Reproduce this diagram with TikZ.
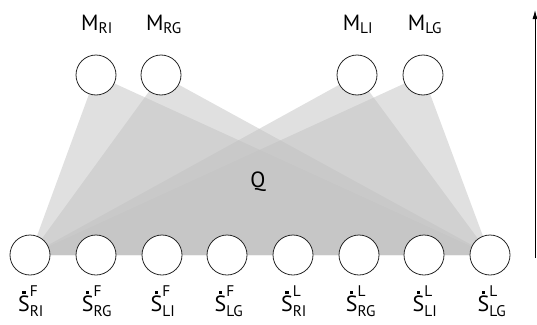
\documentclass[tikz,border=0pt]{standalone}
\usepackage{fontspec}
\usepackage{amsmath}
\usetikzlibrary{arrows.meta}
\setmainfont{PT Sans}
\newcommand\dotS{\setbox0\hbox{S}\rlap{\hbox to\wd0{\hss\rule[0.77em]{0.15em}{0.15em}\hss}}S}
\begin{document}
\begin{tikzpicture}[x=1pt,y=-1pt,
  unit/.style={circle,draw=black!85,line width=0.8pt,fill=white,minimum size=40pt,inner sep=0pt},
  lbl/.style={font=\fontsize{22}{26}\selectfont,inner sep=0pt},
  fan/.style={fill=black!24,fill opacity=0.5,draw=none}]
\useasboundingbox (0,0) rectangle (537,324);
% coordinates
\foreach \n/\x in {sfri/30,sfrg/96,sfli/162,sflg/227,slri/293,slrg/359,slli/424,sllg/490}
  \coordinate (c\n) at (\x,255);
\foreach \n/\x in {mri/96,mrg/161,mli/357,mlg/423}
  \coordinate (c\n) at (\x,75);
% fans
\foreach \m in {mri,mrg,mli,mlg}
  \fill[fan] (c\m) -- (csfri) -- (csllg) -- cycle;
% nodes
\foreach \n in {sfri,sfrg,sfli,sflg,slri,slrg,slli,sllg,mri,mrg,mli,mlg}
  \node[unit] (\n) at (c\n) {};
% top labels
\node[lbl,anchor=base] (lmri) at (97,30) {$\text{M}_{\text{RI}}$};
\node[lbl,anchor=base] (lmrg) at (164,30) {$\text{M}_{\text{RG}}$};
\node[lbl,anchor=base] (lmli) at (358,30) {$\text{M}_{\text{LI}}$};
\node[lbl,anchor=base] (lmlg) at (425,30) {$\text{M}_{\text{LG}}$};
% bottom labels
\node[lbl,anchor=base] (lsfri) at (31,311) {$\text{\dotS}^{\text{F}}_{\text{RI}}$};
\node[lbl,anchor=base] (lsfrg) at (97,311) {$\text{\dotS}^{\text{F}}_{\text{RG}}$};
\node[lbl,anchor=base] (lsfli) at (163,311) {$\text{\dotS}^{\text{F}}_{\text{LI}}$};
\node[lbl,anchor=base] (lsflg) at (229,311) {$\text{\dotS}^{\text{F}}_{\text{LG}}$};
\node[lbl,anchor=base] (lslri) at (294,311) {$\text{\dotS}^{\text{L}}_{\text{RI}}$};
\node[lbl,anchor=base] (lslrg) at (361,311) {$\text{\dotS}^{\text{L}}_{\text{RG}}$};
\node[lbl,anchor=base] (lslli) at (425,311) {$\text{\dotS}^{\text{L}}_{\text{LI}}$};
\node[lbl,anchor=base] (lsllg) at (492,311) {$\text{\dotS}^{\text{L}}_{\text{LG}}$};
\node[lbl,anchor=base] (q) at (258,187) {Q};
% arrow
\coordinate (abot) at (535,258);
\coordinate (atop) at (535,10);
\draw[line width=0.8pt,-{Latex[length=9pt,width=5pt]}] (abot) -- (atop);
\end{tikzpicture}
\end{document}
